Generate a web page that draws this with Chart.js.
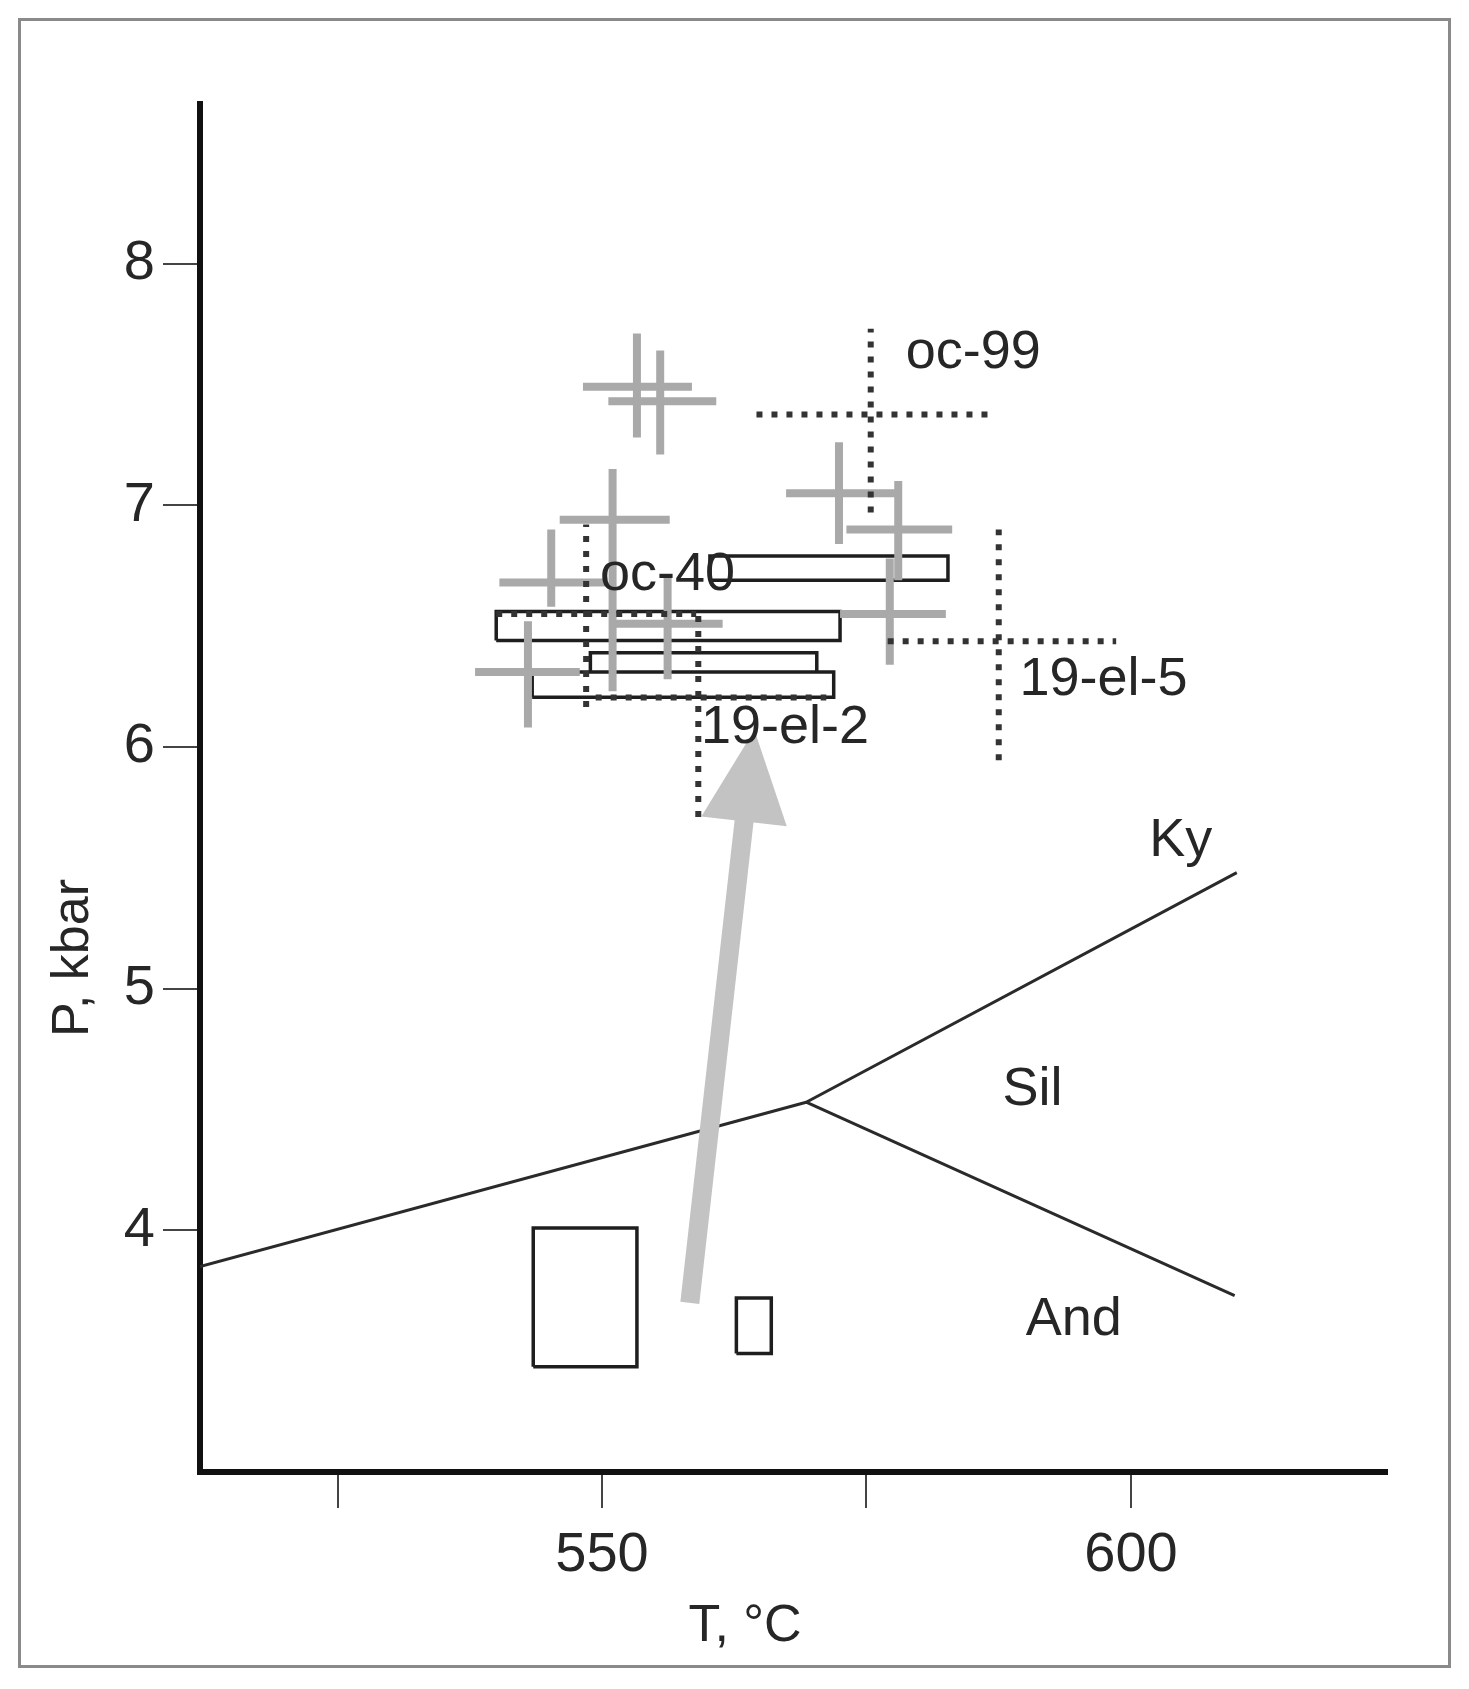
<!DOCTYPE html>
<html>
<head>
<meta charset="utf-8">
<title>P-T diagram</title>
<script src="https://cdn.jsdelivr.net/npm/chart.js@4.4.1/dist/chart.umd.min.js"></script>
<style>
  html, body { margin: 0; padding: 0; background: #fff; }
  #wrap { width: 1469px; height: 1689px; }
</style>
</head>
<body>
<div id="wrap"><canvas id="pt-chart" width="1469" height="1689"></canvas></div>
<script>
// axis ticks
var xTicks = [525, 550, 575, 600];
var xTickLabels = ['', '550', '', '600'];
var yTicks = [4, 5, 6, 7, 8];

// Al2SiO5 phase boundaries (T in °C, P in kbar)
var boundaryNames = ['And-Ky', 'Ky-Sil', 'And-Sil'];
var boundaryT = [[512, 569.3], [569.3, 610.0], [569.3, 609.8]];
var boundaryP = [[3.85, 4.53], [4.53, 5.48], [4.53, 3.73]];

var fieldNames = ['Ky', 'Sil', 'And'];
var fieldT = [604.7, 590.7, 594.6];
var fieldP = [5.61, 4.58, 3.63];

// gray error crosses
var crossT    = [553.3, 555.5, 551.0, 545.2, 556.2, 543.0, 572.4, 578.0, 577.2];
var crossTmin = [548.2, 550.6, 546.0, 540.3, 551.0, 538.0, 567.4, 573.1, 572.5];
var crossTmax = [558.5, 560.8, 556.4, 550.3, 561.4, 547.9, 577.8, 583.1, 582.5];
var crossP    = [7.49, 7.43, 6.94, 6.68, 6.51, 6.31, 7.05, 6.90, 6.55];
var crossPmin = [7.28, 7.21, 6.23, 6.58, 6.28, 6.08, 6.84, 6.69, 6.34];
var crossPmax = [7.71, 7.64, 7.15, 6.90, 6.70, 6.52, 7.26, 7.10, 6.78];

// samples with dotted crosses
var sampleNames  = ['oc-99', 'oc-40', '19-el-5', '19-el-2'];
var sampleT      = [575.4, 548.5, 587.5, 559.1];
var sampleTmin   = [564.6, 540.0, 577.0, 549.4];
var sampleTmax   = [586.6, 558.9, 598.6, 571.2];
var sampleP      = [7.375, 6.55, 6.437, 6.204];
var samplePmin   = [6.97, 6.165, 5.945, 5.71];
var samplePmax   = [7.73, 6.92, 6.90, 6.557];
var sampleLabelT = [585.1, 556.2, 597.4, 567.3];
var sampleLabelP = [7.63, 6.71, 6.275, 6.076];

// boxes (peak ones + the two early ones at the bottom)
var boxTmin = [560.2, 540.0, 548.9, 543.4, 543.5, 562.7];
var boxTmax = [582.7, 572.5, 570.3, 571.9, 553.3, 566.0];
var boxPmin = [6.69, 6.44, 6.31, 6.205, 3.435, 3.49];
var boxPmax = [6.79, 6.56, 6.39, 6.31, 4.01, 3.72];

// P-T path arrow, tail -> tip
var arrowT = [558.3, 564.4];
var arrowP = [3.70, 6.07];

var FONT = "'Liberation Sans', Arial, sans-serif";

function gap(x) { return { x: x, y: null }; }

var boundaryData = [];
boundaryT.forEach(function (ts, i) {
    boundaryData.push({ x: ts[0], y: boundaryP[i][0] }, { x: ts[1], y: boundaryP[i][1] }, gap(ts[1]));
});

var crossData = [];
for (var i = 0; i < crossT.length; i++) {
    crossData.push({ x: crossTmin[i], y: crossP[i] }, { x: crossTmax[i], y: crossP[i] }, gap(crossTmax[i]));
    crossData.push({ x: crossT[i], y: crossPmin[i] }, { x: crossT[i], y: crossPmax[i] }, gap(crossT[i]));
}

var sampleData = [];
for (var i = 0; i < sampleT.length; i++) {
    sampleData.push({ x: sampleTmin[i], y: sampleP[i] }, { x: sampleTmax[i], y: sampleP[i] }, gap(sampleTmax[i]));
    sampleData.push({ x: sampleT[i], y: samplePmin[i] }, { x: sampleT[i], y: samplePmax[i] }, gap(sampleT[i]));
}

var boxData = [];
for (var i = 0; i < boxTmin.length; i++) {
    boxData.push(
        { x: boxTmin[i], y: boxPmin[i] }, { x: boxTmax[i], y: boxPmin[i] },
        { x: boxTmax[i], y: boxPmax[i] }, { x: boxTmin[i], y: boxPmax[i] },
        { x: boxTmin[i], y: boxPmin[i] }, gap(boxTmin[i]));
}

function lineSet(label, data, color, width, order, dash) {
    return {
        label: label,
        data: data,
        showLine: true,
        spanGaps: false,
        borderColor: color,
        borderWidth: width,
        borderDash: dash || [],
        borderCapStyle: 'butt',
        borderJoinStyle: 'miter',
        pointRadius: 0,
        pointHoverRadius: 0,
        fill: false,
        order: order
    };
}

var drawExtras = {
    id: 'drawExtras',
    beforeDraw: function (chart) {
        var ctx = chart.ctx;
        ctx.save();
        ctx.fillStyle = '#fff';
        ctx.fillRect(0, 0, chart.width, chart.height);
        ctx.strokeStyle = '#8a8a8a';
        ctx.lineWidth = 3;
        ctx.strokeRect(19.5, 19.5, 1430, 1647);
        ctx.restore();
    },
    afterDatasetsDraw: function (chart) {
        var ctx = chart.ctx;
        var xs = chart.scales.x, ys = chart.scales.y;
        ctx.save();

        // arrow
        var x0 = xs.getPixelForValue(arrowT[0]), y0 = ys.getPixelForValue(arrowP[0]);
        var x1 = xs.getPixelForValue(arrowT[1]), y1 = ys.getPixelForValue(arrowP[1]);
        var len = Math.hypot(x1 - x0, y1 - y0);
        var ux = (x1 - x0) / len, uy = (y1 - y0) / len;
        var headLen = 92, headW = 86;
        var bx = x1 - ux * headLen, by = y1 - uy * headLen;
        ctx.strokeStyle = '#c3c3c3';
        ctx.lineWidth = 19;
        ctx.lineCap = 'butt';
        ctx.beginPath();
        ctx.moveTo(x0, y0);
        ctx.lineTo(bx + ux * 2, by + uy * 2);
        ctx.stroke();
        ctx.fillStyle = '#c3c3c3';
        ctx.beginPath();
        ctx.moveTo(x1, y1);
        ctx.lineTo(bx - uy * headW / 2, by + ux * headW / 2);
        ctx.lineTo(bx + uy * headW / 2, by - ux * headW / 2);
        ctx.closePath();
        ctx.fill();

        // labels
        ctx.fillStyle = '#262626';
        ctx.font = '54px ' + FONT;
        ctx.textAlign = 'center';
        ctx.textBaseline = 'middle';
        sampleNames.forEach(function (s, i) {
            ctx.fillText(s, xs.getPixelForValue(sampleLabelT[i]), ys.getPixelForValue(sampleLabelP[i]));
        });
        fieldNames.forEach(function (s, i) {
            ctx.fillText(s, xs.getPixelForValue(fieldT[i]), ys.getPixelForValue(fieldP[i]));
        });

        // axis titles
        ctx.font = '52px ' + FONT;
        ctx.textBaseline = 'alphabetic';
        ctx.fillText('T, °C', 745, 1641);
        ctx.translate(88, 958);
        ctx.rotate(-Math.PI / 2);
        ctx.fillText('P, kbar', 0, 0);
        ctx.restore();
    }
};

var ctx = document.getElementById('pt-chart').getContext('2d');
var ptChart = new Chart(ctx, {
    type: 'scatter',
    data: {
        datasets: [
            lineSet('samples', sampleData, '#333', 6, 1, [6, 9]),
            lineSet('crosses', crossData, '#a9a9a9', 8, 2),
            lineSet('boxes', boxData, '#1e1e1e', 3.5, 3),
            lineSet('boundaries', boundaryData, '#2a2a2a', 3, 4)
        ]
    },
    options: {
        responsive: false,
        animation: false,
        events: [],
        layout: { padding: { top: 104, right: 82, left: 0, bottom: 0 } },
        plugins: {
            legend: { display: false },
            tooltip: { enabled: false }
        },
        scales: {
            x: {
                type: 'linear',
                min: 512,
                max: 624.2,
                afterFit: function (scale) { scale.height = 217; },
                afterBuildTicks: function (axis) {
                    axis.ticks = xTicks.map(function (v) { return { value: v }; });
                },
                ticks: {
                    autoSkip: false,
                    maxRotation: 0,
                    padding: 14,
                    color: '#262626',
                    font: { family: FONT, size: 56 },
                    callback: function (v, i) { return xTickLabels[i]; }
                },
                grid: { drawOnChartArea: false, drawTicks: true, tickLength: 36, color: '#444', lineWidth: 2 },
                border: { display: true, color: '#111', width: 6 }
            },
            y: {
                type: 'linear',
                min: 3,
                max: 8.66,
                afterFit: function (scale) { scale.width = 200; },
                afterBuildTicks: function (axis) {
                    axis.ticks = yTicks.map(function (v) { return { value: v }; });
                },
                ticks: {
                    autoSkip: false,
                    padding: 8,
                    color: '#262626',
                    font: { family: FONT, size: 56 },
                    callback: function (v) { return String(v); }
                },
                grid: { drawOnChartArea: false, drawTicks: true, tickLength: 37, color: '#444', lineWidth: 2 },
                border: { display: true, color: '#111', width: 6 }
            }
        }
    },
    plugins: [drawExtras]
});
</script>
</body>
</html>
